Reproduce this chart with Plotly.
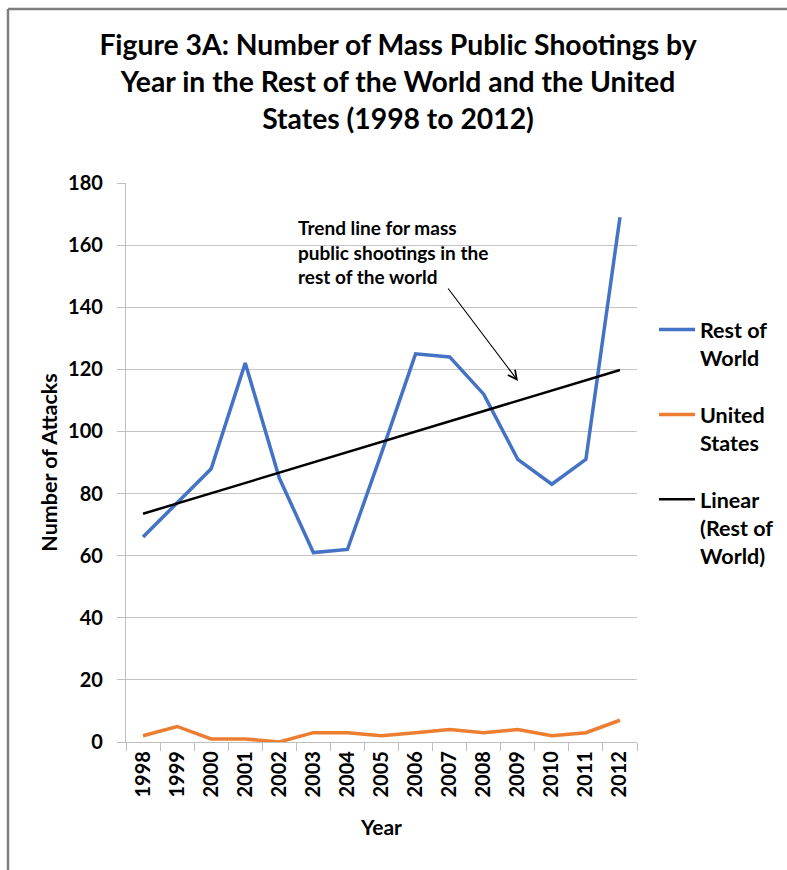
import plotly.graph_objects as go

years = [str(y) for y in range(1998, 2013)]
rest_of_world = [66, 77, 88, 122, 85, 61, 62, 93, 125, 124, 112, 91, 83, 91, 169]
united_states = [2, 5, 1, 1, 0, 3, 3, 2, 3, 4, 3, 4, 2, 3, 7]
trend_years = ["1998", "2012"]
trend_values = [73.5, 119.8]
y_ticks = [0, 20, 40, 60, 80, 100, 120, 140, 160, 180]

FONT = "Lato"
W, H = 787, 870
L, R, T, B = 126, 637, 183, 742

def px_x(p):
    return (p - L) / (R - L)

def px_y(p):
    return (B - p) / (B - T)

fig = go.Figure()
fig.add_trace(go.Scatter(x=years, y=rest_of_world, mode="lines", name="Rest of<br>World",
                         line=dict(color="#4472C4", width=3.5), legendgroup="a"))
fig.add_trace(go.Scatter(x=years, y=united_states, mode="lines", name="United<br>States",
                         line=dict(color="#ED7D31", width=3.5), legendgroup="b"))
fig.add_trace(go.Scatter(x=trend_years, y=trend_values, mode="lines", name="Linear<br>(Rest of<br>World)",
                         line=dict(color="black", width=2.5), legendgroup="c"))

fig.update_layout(
    width=W, height=H,
    margin=dict(l=L, r=W - R, t=T, b=H - B, autoexpand=False),
    paper_bgcolor="white", plot_bgcolor="white",
    font=dict(family=FONT, color="black", size=18),
    title=dict(text="<b>Figure 3A: Number of Mass Public Shootings by<br>Year in the Rest of the World and the United<br>States (1998 to 2012)</b>",
               x=(398) / W, xanchor="center", y=1 - 55 / H, yanchor="top",
               font=dict(family=FONT, size=28.3, color="black")),
    showlegend=True,
    legend=dict(x=px_x(654), y=px_y(309), xanchor="left", yanchor="top",
                font=dict(family=FONT, size=21.5, color="black", weight="bold"),
                valign="top", tracegroupgap=26, itemwidth=36,
                bgcolor="rgba(0,0,0,0)"),
    xaxis=dict(type="category", range=[-0.5, 14.5], showgrid=False,
               showline=True, linecolor="#bfbfbf", linewidth=1.3,
               ticks="outside", ticklen=8, tickcolor="#bfbfbf", tickwidth=1.3,
               tickson="boundaries", tickangle=-90,
               tickfont=dict(family=FONT, size=20, color="black", weight="bold"),
               title=dict(text="<b>Year</b>", standoff=23,
                          font=dict(family=FONT, size=21, color="black")),
               automargin=False, fixedrange=True),
    yaxis=dict(range=[0, 180], tickvals=y_ticks, showgrid=True, gridcolor="#c4c4c4", gridwidth=1.3,
               showline=True, linecolor="#bfbfbf", linewidth=1.3, zeroline=False,
               ticks="outside", ticklen=8, tickcolor="#bfbfbf", tickwidth=1.3,
               ticklabelstandoff=10,
               tickfont=dict(family=FONT, size=20, color="black", weight="bold"),
               title=dict(text="<b>Number of Attacks</b>", standoff=4,
                          font=dict(family=FONT, size=21.5, color="black")),
               automargin=False, fixedrange=True),
)

fig.add_annotation(text="<b>Trend line for mass<br>public shootings in the<br>rest of the world</b>",
                   xref="paper", yref="paper", x=px_x(296), y=px_y(214),
                   xanchor="left", yanchor="top", align="left", showarrow=False,
                   font=dict(family=FONT, size=19, color="black"))
fig.add_annotation(text="", xref="paper", yref="paper", x=px_x(518), y=px_y(381),
                   ax=447 - 518, ay=287 - 381, axref="pixel", ayref="pixel",
                   showarrow=True, arrowhead=5, arrowsize=1.6, arrowwidth=1.1, arrowcolor="black")

# chart border (top and left edges visible)
fig.add_shape(type="line", xref="paper", yref="paper", x0=px_x(8), x1=px_x(W), y0=px_y(9), y1=px_y(9),
              line=dict(color="#7f7f7f", width=2.5))
fig.add_shape(type="line", xref="paper", yref="paper", x0=px_x(8), x1=px_x(8), y0=px_y(9), y1=px_y(H),
              line=dict(color="#7f7f7f", width=2.5))

fig.write_html("out.html", config={"displayModeBar": False})
